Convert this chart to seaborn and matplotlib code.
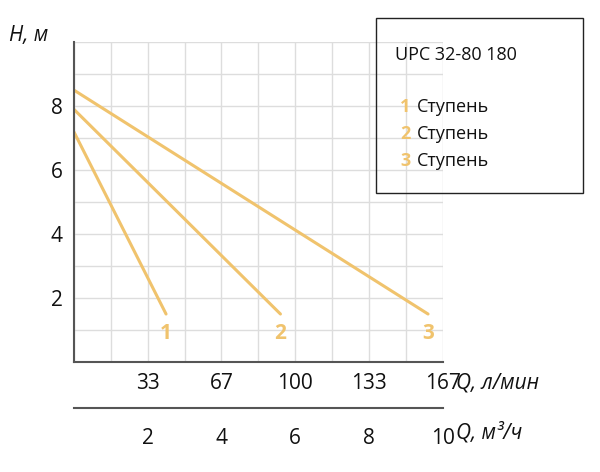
import matplotlib
matplotlib.use("Agg")
import matplotlib.pyplot as plt
import seaborn as sns
import pandas as pd

stages = ["1", "2", "3"]
q_start = [0, 0, 0]
q_end = [2.5, 5.6, 9.6]
h_start = [7.2, 7.9, 8.5]
h_end = [1.5, 1.5, 1.5]
lpm_ticks = [2, 4, 6, 8, 10]
lpm_labels = ["33", "67", "100", "133", "167"]
m3h_labels = ["2", "4", "6", "8", "10"]
color = "#F0C36D"
txt = "#111111"

sns.set_style("white")
plt.rcParams['font.family'] = ['Open Sans', 'DejaVu Sans']

rows = []
for s, q0, q1, h0, h1 in zip(stages, q_start, q_end, h_start, h_end):
    rows += [dict(stage=s, q=q0, h=h0), dict(stage=s, q=q1, h=h1)]
df = pd.DataFrame(rows)

fig = plt.figure(figsize=(6, 4.72), dpi=100)
ax = fig.add_axes([0.123, 0.233, 0.615, 0.678])
ax.set_xlim(0, 10); ax.set_ylim(0, 10)
ax.set_xticks(range(0, 11), minor=True); ax.set_yticks(range(0, 11), minor=True)
ax.grid(which="both", color="#dddddd", lw=1)
sns.lineplot(data=df, x="q", y="h", hue="stage", palette=[color]*3, lw=2.2, legend=False, ax=ax)
for s, q1 in zip(stages, q_end):
    ax.text(q1, 0.9, s, color=color, fontsize=15, fontweight="bold", ha="center", va="center")
ax.set_xticks(lpm_ticks); ax.set_xticklabels(lpm_labels)
ax.set_yticks([2, 4, 6, 8])
ax.tick_params(axis="both", which="both", length=0, labelsize=15, pad=8, labelcolor=txt)
ax.set_xlabel(""); ax.set_ylabel("")
for sp in ["top", "right"]:
    ax.spines[sp].set_visible(False)
for sp in ["left", "bottom"]:
    ax.spines[sp].set_color("#555555"); ax.spines[sp].set_linewidth(1.5)
ax.text(-0.07, 1.02, "H, м", transform=ax.transAxes, ha="right", va="center", fontsize=15, style="italic", color=txt)
ax.text(10.35, -0.65, "Q, л/мин", ha="left", va="center", fontsize=15, style="italic", color=txt, clip_on=False)

ax2 = fig.add_axes([0.123, 0.135, 0.615, 0.03])
ax2.set_xlim(0, 10); ax2.set_ylim(0, 1)
ax2.patch.set_visible(False)
for sp in ["top", "right", "left"]:
    ax2.spines[sp].set_visible(False)
ax2.spines["bottom"].set_color("#555555"); ax2.spines["bottom"].set_linewidth(1.5)
ax2.set_yticks([])
ax2.set_xticks([0] + lpm_ticks); ax2.set_xticklabels([""] + m3h_labels)
ax2.tick_params(axis="x", direction="in", length=9, width=1.5, color="#555555", labelsize=15, pad=14, labelcolor=txt)
ax2.text(10.35, -1.75, "Q, м³/ч", transform=ax2.get_xaxis_transform(), ha="left", va="center", fontsize=15, style="italic", color=txt)

fig.patches.append(plt.Rectangle((376/600, 1-193/472), 207/600, 175/472, transform=fig.transFigure,
                                 fill=False, ec="#222222", lw=1))
fig.text(395/600, 1-55/472, "UPC 32-80 180", fontsize=13, va="center", color=txt)
for i, s in enumerate(stages):
    y = 1 - (107 + i*27)/472
    fig.text(400/600, y, s, color=color, fontsize=13, fontweight="bold", va="center")
    fig.text(417/600, y, "Ступень", fontsize=13, va="center", color=txt)
fig.savefig("out.png", dpi=100)
